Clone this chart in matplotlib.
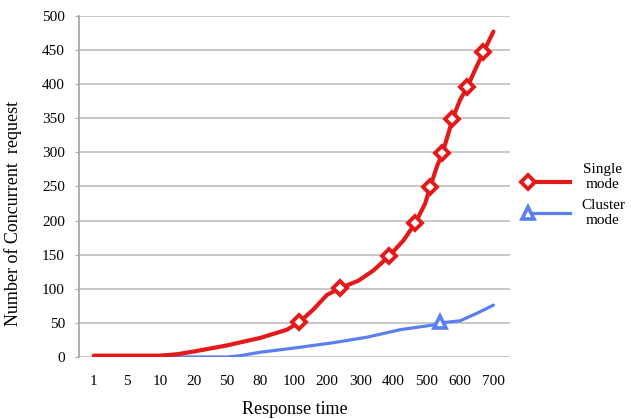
import matplotlib
matplotlib.use('Agg')
import matplotlib.pyplot as plt
from matplotlib.lines import Line2D

plt.rcParams['font.family'] = ['Liberation Serif', 'DejaVu Serif']

# x axis categories (response time), curves given as positions along the category axis
tick_labels = ['1', '5', '10', '20', '50', '80', '100', '200', '300', '400', '500', '600', '700']

single_x = [0, 2.0, 2.5, 3.0, 4.0, 5.0, 5.8, 6.17, 6.6, 7.0, 7.4, 7.95, 8.4, 8.87, 9.3, 9.65,
            9.95, 10.1, 10.3, 10.47, 10.65, 10.77, 11.0, 11.22, 11.45, 11.7, 12.0]
single_y = [2, 2, 4, 8, 17, 28, 40, 51, 70, 91, 101, 112, 127, 148, 171, 196,
            225, 249, 279, 299, 328, 349, 377, 396, 421, 447, 477]
single_mark_x = [6.17, 7.4, 8.87, 9.65, 10.1, 10.47, 10.77, 11.22, 11.7]
single_mark_y = [51, 101, 148, 196, 249, 299, 349, 396, 447]

cluster_x = [0, 4.0, 4.4, 5.0, 6.0, 6.6, 7.2, 8.2, 9.2, 10.2, 10.4, 11.0, 11.5, 12.0]
cluster_y = [0, 0, 2, 7, 13, 17, 21, 29, 40, 47, 50, 53, 64, 76]
cluster_mark_x = [10.4]
cluster_mark_y = [51]

red = '#e41a1a'
blue = '#5b7ff0'

fig = plt.figure(figsize=(6.36, 4.19), dpi=100)
ax = fig.add_axes([0.124, 0.148, 0.678, 0.814])

ax.plot(single_x, single_y, color=red, lw=3.0, solid_capstyle='round', zorder=3)
ax.plot(single_mark_x, single_mark_y, 'D', ms=7.5, mfc='white', mec=red, mew=2.8, zorder=4)
ax.plot(cluster_x, cluster_y, color=blue, lw=2.3, solid_capstyle='round', zorder=2)
ax.plot(cluster_mark_x, cluster_mark_y, '^', ms=9, mfc='white', mec=blue, mew=2.6, zorder=4)

ax.set_xlim(-0.45, 12.5)
ax.set_ylim(0, 500)
ax.set_yticks(range(0, 501, 50))
ax.set_xticks(range(len(tick_labels)))
ax.set_xticklabels(tick_labels)
ax.grid(axis='y', color='#c4c4c4', lw=1.3)
ax.set_axisbelow(True)
for s in ['top', 'right', 'bottom']:
    ax.spines[s].set_visible(False)
ax.spines['left'].set_color('#a8a8a8')
ax.spines['left'].set_linewidth(1.3)
ax.tick_params(axis='y', length=3, color='#a8a8a8', labelsize=11, pad=7)
ax.tick_params(axis='x', length=0, labelsize=11, pad=13)

ax.set_xlabel('Response time', fontsize=13, labelpad=9)
ax.set_ylabel('Number of Concurrent  request', fontsize=13)
ax.yaxis.set_label_coords(-0.132, 0.42)

# legend drawn by hand to the right of the plot
fig.add_artist(Line2D([0.83, 0.897], [1 - 182 / 419] * 2, color=red, lw=3.0))
fig.add_artist(Line2D([0.83], [1 - 182 / 419], marker='D', ms=7.5, mfc='white', mec=red, mew=2.8))
fig.add_artist(Line2D([0.83, 0.897], [1 - 213 / 419] * 2, color=blue, lw=2.3))
fig.add_artist(Line2D([0.83], [1 - 213 / 419], marker='^', ms=9, mfc='white', mec=blue, mew=2.6))
fig.text(0.948, 1 - 177 / 419, 'Single\nmode', ha='center', va='center', fontsize=11, linespacing=1.25)
fig.text(0.948, 1 - 213 / 419, 'Cluster\nmode', ha='center', va='center', fontsize=11, linespacing=1.25)

fig.savefig('out.png', dpi=100)
